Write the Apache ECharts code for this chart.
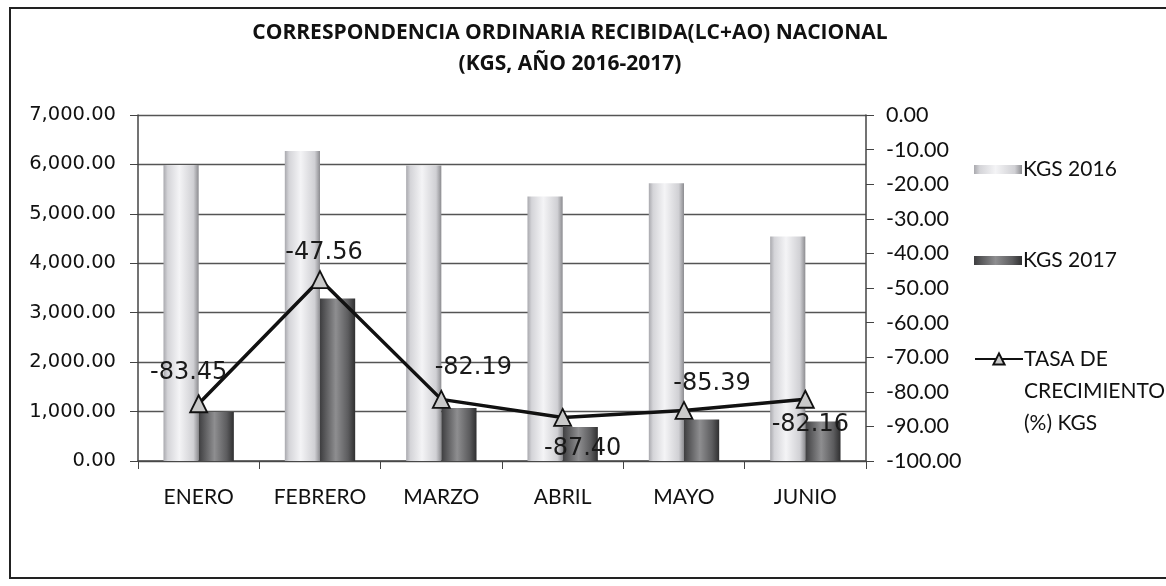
<!DOCTYPE html>
<html>
<head>
<meta charset="utf-8">
<script src="https://cdn.jsdelivr.net/npm/echarts@6/dist/echarts.min.js"></script>
<style>
  html, body { margin: 0; padding: 0; background: #fff; }
  #chart { width: 1166px; height: 586px; }
</style>
</head>
<body>
<div id="chart"></div>
<script>
// data
var months = ['ENERO', 'FEBRERO', 'MARZO', 'ABRIL', 'MAYO', 'JUNIO']
var kgs2016 = [5990, 6270, 5980, 5350, 5620, 4540]
var kgs2017 = [990, 3290, 1070, 690, 840, 800]
var tasa = [-83.45, -47.56, -82.19, -87.40, -85.39, -82.16]

// where each point label sits relative to its marker
var labelShift = [[-10, -31], [4, -27], [32, -32], [20, 31], [28, -27], [5, 25]]

var chart = echarts.init(document.getElementById('chart'))

var fmt2 = function (v) {
  return v.toLocaleString('en-US', { minimumFractionDigits: 2, maximumFractionDigits: 2 })
}

var lightBar = new echarts.graphic.LinearGradient(0, 0, 1, 0, [
  { offset: 0, color: '#a9a9ae' },
  { offset: 0.12, color: '#d4d4d8' },
  { offset: 0.45, color: '#f4f4f6' },
  { offset: 0.85, color: '#d0d0d4' },
  { offset: 1, color: '#8c8c90' }
])
var darkBar = new echarts.graphic.LinearGradient(0, 0, 1, 0, [
  { offset: 0, color: '#3e3e40' },
  { offset: 0.45, color: '#8e8e90' },
  { offset: 0.8, color: '#5c5c5e' },
  { offset: 1, color: '#2f2f30' }
])

var option = {
  backgroundColor: '#fff',
  animation: false,
  title: {
    text: 'CORRESPONDENCIA ORDINARIA RECIBIDA(LC+AO) NACIONAL\n(KGS, AÑO 2016-2017)',
    left: 565,
    top: 13,
    textAlign: 'center',
    textStyle: {
      fontFamily: 'Open Sans',
      fontWeight: 'bold',
      fontSize: 21,
      lineHeight: 31,
      color: '#111'
    }
  },
  graphic: [{
    type: 'rect',
    shape: { x: 10, y: 8, width: 1170, height: 570 },
    style: { fill: null, stroke: '#222', lineWidth: 2 },
    silent: true
  }],
  legend: [{
    orient: 'vertical',
    left: 969,
    top: 154,
    itemGap: 70,
    itemWidth: 48,
    itemHeight: 9,
    icon: 'rect',
    data: ['KGS 2016', 'KGS 2017'],
    textStyle: { fontFamily: 'Lato', fontSize: 21, color: '#111', padding: [0, 0, 0, -4] }
  }, {
    orient: 'vertical',
    left: 969,
    top: 274,
    itemWidth: 48,
    itemHeight: 14,
    data: ['TASA DE CRECIMIENTO (%) KGS'],
    formatter: function () { return '\n\nTASA DE\nCRECIMIENTO\n(%) KGS' },
    textStyle: {
      fontFamily: 'Lato', fontSize: 21, color: '#111', lineHeight: 32,
      padding: [0, 0, 0, -4]
    }
  }],
  grid: { left: 138, right: 300, top: 115, bottom: 125 },
  xAxis: {
    type: 'category',
    data: months,
    axisLine: { lineStyle: { color: '#444', width: 1.5 } },
    axisTick: { show: true, length: 8, lineStyle: { color: '#444' } },
    axisLabel: { fontFamily: 'Lato', fontSize: 21, color: '#111', margin: 26 }
  },
  yAxis: [{
    type: 'value',
    min: 0,
    max: 7000,
    interval: 1000,
    axisLine: { show: true, lineStyle: { color: '#444', width: 1.5 } },
    axisTick: { show: true, length: 8, lineStyle: { color: '#444' } },
    splitLine: { lineStyle: { color: '#555', width: 1.3 } },
    axisLabel: { formatter: fmt2, fontFamily: 'DejaVu Sans', fontSize: 19.5, color: '#111', margin: 22 }
  }, {
    type: 'value',
    min: -100,
    max: 0,
    interval: 10,
    position: 'right',
    axisLine: { show: true, lineStyle: { color: '#444', width: 1.5 } },
    axisTick: { show: true, length: 8, lineStyle: { color: '#444' } },
    splitLine: { show: false },
    axisLabel: { formatter: fmt2, fontFamily: 'Lato', fontSize: 21.5, color: '#111', margin: 20, align: 'left' }
  }],
  series: [{
    name: 'KGS 2016',
    type: 'bar',
    data: kgs2016,
    barGap: '0%',
    barCategoryGap: '42%',
    itemStyle: { color: lightBar },
    z: 2
  }, {
    name: 'KGS 2017',
    type: 'bar',
    data: kgs2017,
    itemStyle: { color: darkBar },
    z: 2
  }, {
    name: 'TASA DE CRECIMIENTO (%) KGS',
    type: 'line',
    yAxisIndex: 1,
    symbol: 'triangle',
    symbolSize: 17,
    lineStyle: { color: '#111', width: 3.5 },
    itemStyle: { color: '#c9c9c9', borderColor: '#111', borderWidth: 1.8 },
    z: 5,
    data: tasa.map(function (v, i) {
      return {
        value: v,
        label: {
          show: true,
          position: 'inside',
          offset: labelShift[i],
          formatter: fmt2(v),
          fontFamily: 'DejaVu Sans',
          fontSize: 24,
          color: '#1a1a1a'
        }
      }
    })
  }]
}

chart.setOption(option)
</script>
</body>
</html>
